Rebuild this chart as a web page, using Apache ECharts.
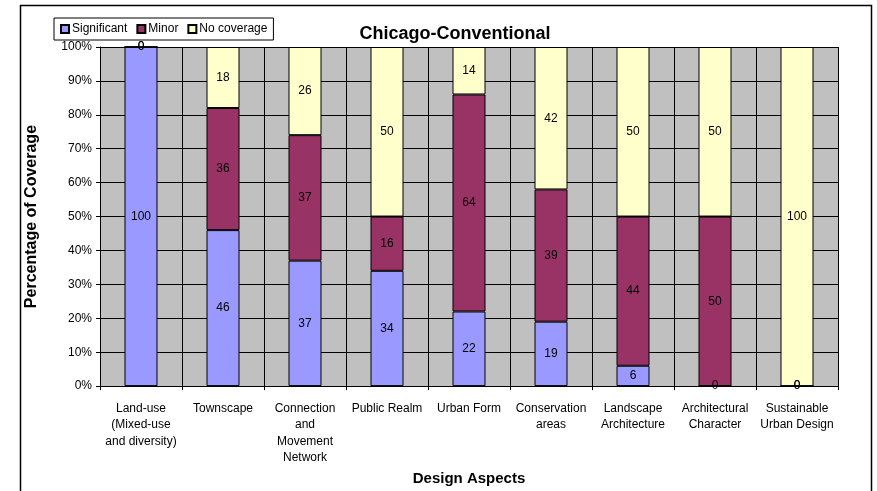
<!DOCTYPE html>
<html>
<head>
<meta charset="utf-8">
<style>
  html, body { margin: 0; padding: 0; background: #ffffff; }
  #chart { width: 877px; height: 491px; }
</style>
<script src="https://cdn.jsdelivr.net/npm/echarts@6/dist/echarts.min.js"></script>
</head>
<body>
<div id="chart"></div>
<script>
// Design aspects covered by the plan, share of coverage (%)
var categories = [
  'Land-use\n(Mixed-use\nand diversity)',
  'Townscape',
  'Connection\nand\nMovement\nNetwork',
  'Public Realm',
  'Urban Form',
  'Conservation\nareas',
  'Landscape\nArchitecture',
  'Architectural\nCharacter',
  'Sustainable\nUrban Design'
];
var significant = [100, 46, 37, 34, 22, 19, 6, 0, 0];
var minor       = [0, 36, 37, 16, 64, 39, 44, 50, 0];
var noCoverage  = [0, 18, 26, 50, 14, 42, 50, 50, 100];
var yTicks = [0, 10, 20, 30, 40, 50, 60, 70, 80, 90, 100];

var FONT = '"Liberation Sans", Arial, sans-serif';

function barSeries(name, data, color) {
  return {
    name: name,
    type: 'bar',
    stack: 'coverage',
    data: data,
    barWidth: 33,
    itemStyle: { color: color, borderColor: '#000000', borderWidth: 1 },
    emphasis: { disabled: true },
    label: {
      show: true,
      position: 'inside',
      color: '#000000',
      fontFamily: FONT,
      fontSize: 12
    }
  };
}

var chart = echarts.init(document.getElementById('chart'), null, { renderer: 'canvas' });
chart.setOption({
  animation: false,
  backgroundColor: '#ffffff',
  title: {
    text: 'Chicago-Conventional',
    left: 450,
    top: 20,
    textAlign: 'center',
    textStyle: { fontFamily: FONT, fontSize: 18, fontWeight: 'bold', color: '#000000' }
  },
  legend: {
    left: 54,
    top: 18,
    orient: 'horizontal',
    icon: 'rect',
    itemWidth: 8,
    itemHeight: 8,
    itemGap: 9,
    padding: [5, 6, 5, 6],
    borderColor: '#000000',
    borderWidth: 1,
    textStyle: { fontFamily: FONT, fontSize: 12, color: '#000000', padding: [0, 0, 0, -2] },
    data: ['Significant', 'Minor', 'No coverage']
  },
  grid: {
    left: 100,
    right: 39,
    top: 47,
    bottom: 104,
    show: true,
    backgroundColor: '#C0C0C0',
    borderWidth: 0
  },
  xAxis: {
    type: 'category',
    data: categories,
    boundaryGap: true,
    name: 'Design Aspects',
    nameLocation: 'middle',
    nameGap: 83,
    nameTextStyle: { fontFamily: FONT, fontSize: 15, fontWeight: 'bold', color: '#000000' },
    axisLine: { show: true, lineStyle: { color: '#000000', width: 1 } },
    axisTick: { show: true, alignWithLabel: false, length: 4, lineStyle: { color: '#000000' } },
    splitLine: { show: true, lineStyle: { color: '#000000', width: 1 } },
    axisLabel: {
      interval: 0,
      margin: 14,
      fontFamily: FONT,
      fontSize: 12,
      lineHeight: 16.5,
      color: '#000000'
    }
  },
  yAxis: {
    type: 'value',
    min: yTicks[0],
    max: yTicks[yTicks.length - 1],
    interval: yTicks[1] - yTicks[0],
    name: 'Percentage of Coverage',
    nameLocation: 'middle',
    nameGap: 60,
    nameRotate: 90,
    nameTextStyle: { fontFamily: FONT, fontSize: 16, fontWeight: 'bold', color: '#000000' },
    axisLine: { show: true, lineStyle: { color: '#000000', width: 1 } },
    axisTick: { show: true, length: 4, lineStyle: { color: '#000000' } },
    splitLine: { show: true, lineStyle: { color: '#000000', width: 1 } },
    axisLabel: {
      formatter: '{value}%',
      margin: 8,
      fontFamily: FONT,
      fontSize: 12,
      color: '#000000'
    }
  },
  series: [
    barSeries('Significant', significant, '#9999FF'),
    barSeries('Minor', minor, '#993366'),
    barSeries('No coverage', noCoverage, '#FFFFCC')
  ],
  graphic: [{
    type: 'rect',
    silent: true,
    z: 100,
    shape: { x: 20.5, y: 5.5, width: 851, height: 500 },
    style: { fill: null, stroke: '#000000', lineWidth: 1.5 }
  }]
});
</script>
</body>
</html>
